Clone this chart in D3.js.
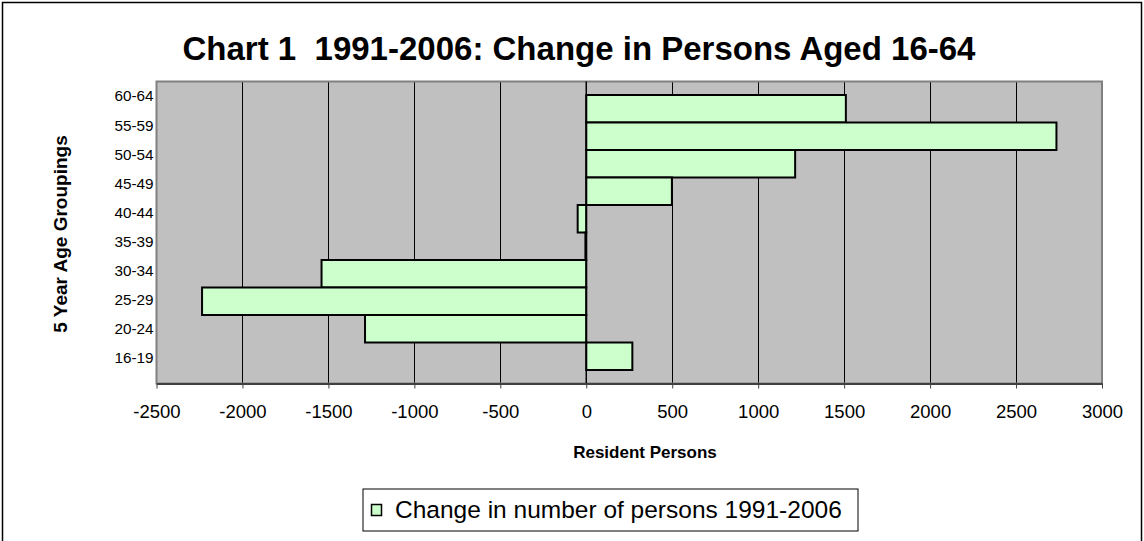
<!DOCTYPE html>
<html>
<head>
<meta charset="utf-8">
<script src="https://cdn.jsdelivr.net/npm/d3@7"></script>
<style>
  html, body { margin: 0; padding: 0; background: #fff; }
  svg { display: block; font-family: Arial, "Liberation Sans", sans-serif; }
</style>
</head>
<body>
<svg id="chart" width="1144" height="541"></svg>
<script>
// ---- data ----
const categories = ["60-64", "55-59", "50-54", "45-49", "40-44", "35-39", "30-34", "25-29", "20-24", "16-19"];
const values = [1510, 2735, 1215, 498, -50, -5, -1540, -2235, -1287, 268];
const xTicks = [-2500, -2000, -1500, -1000, -500, 0, 500, 1000, 1500, 2000, 2500, 3000];
const titleText = "Chart 1  1991-2006: Change in Persons Aged 16-64";
const xTitle = "Resident Persons";
const yTitle = "5 Year Age Groupings";
const legendText = "Change in number of persons 1991-2006";

// ---- layout ----
const W = 1144, H = 541;
const plot = { left: 156.5, right: 1102, top: 81.5, bottom: 383.5 };
const svg = d3.select("#chart");

// outer frame
svg.append("rect").attr("x", 2.5).attr("y", 2.5).attr("width", W - 5).attr("height", H + 10)
  .attr("fill", "none").attr("stroke", "#000").attr("stroke-width", 1.5);

const x = d3.scaleLinear().domain([xTicks[0], xTicks[xTicks.length - 1]]).range([plot.left, plot.right]);
const y = d3.scaleBand().domain(categories).range([95, 370]).paddingInner(0).paddingOuter(0);
const yLab = d3.scalePoint().domain(categories).range([96, 358]);

// plot background
svg.append("rect").attr("x", plot.left).attr("y", plot.top)
  .attr("width", plot.right - plot.left).attr("height", plot.bottom - plot.top)
  .attr("fill", "#C0C0C0");

// gridlines
svg.append("g").selectAll("line").data(xTicks.slice(1, -1)).join("line")
  .attr("x1", d => Math.round(x(d)) + 0.5).attr("x2", d => Math.round(x(d)) + 0.5)
  .attr("y1", plot.top).attr("y2", plot.bottom)
  .attr("stroke", "#000").attr("stroke-width", 1);

// plot border
svg.append("rect").attr("x", plot.left).attr("y", plot.top)
  .attr("width", plot.right - plot.left).attr("height", plot.bottom - plot.top)
  .attr("fill", "none").attr("stroke", "#808080").attr("stroke-width", 2);

// bars
svg.append("g").selectAll("rect").data(categories).join("rect")
  .attr("x", (d, i) => x(Math.min(0, values[i])))
  .attr("y", d => y(d))
  .attr("width", (d, i) => Math.abs(x(values[i]) - x(0)))
  .attr("height", y.bandwidth())
  .attr("fill", "#CCFFCC").attr("stroke", "#000").attr("stroke-width", 2);

// zero (category axis) line
svg.append("line").attr("x1", x(0)).attr("x2", x(0)).attr("y1", plot.top).attr("y2", plot.bottom)
  .attr("stroke", "#000").attr("stroke-width", 1.5);

// x axis
const xAxis = d3.axisBottom(x).tickValues(xTicks).tickSize(5).tickPadding(16).tickSizeOuter(0)
  .tickFormat(d3.format("d"));
const gx = svg.append("g").attr("transform", `translate(0,${plot.bottom})`).call(xAxis);
gx.select(".domain").attr("stroke", "#404040").attr("stroke-width", 2);
gx.selectAll(".tick line").attr("stroke", "#404040").attr("stroke-width", 1);
gx.selectAll(".tick text").attr("font-size", 18.5).attr("fill", "#000")
  .attr("font-family", 'Arial, "Liberation Sans", sans-serif').text(d => String(d).replace("\u2212", "-"));

// y labels
const yAxis = d3.axisLeft(yLab).tickSize(0).tickPadding(3);
const gy = svg.append("g").attr("transform", `translate(${plot.left},0)`).call(yAxis);
gy.select(".domain").remove();
gy.selectAll(".tick text").attr("font-size", 15.3).attr("fill", "#000")
  .attr("font-family", 'Arial, "Liberation Sans", sans-serif');

// title
svg.append("text").attr("x", 579).attr("y", 60).attr("text-anchor", "middle")
  .style("white-space", "pre").attr("xml:space", "preserve")
  .attr("font-size", 33).attr("font-weight", "bold").text(titleText);

// x title
svg.append("text").attr("x", 645).attr("y", 458).attr("text-anchor", "middle")
  .attr("font-size", 17).attr("font-weight", "bold").text(xTitle);

// y title
svg.append("text").attr("transform", "translate(67,234) rotate(-90)").attr("text-anchor", "middle")
  .attr("font-size", 19).attr("font-weight", "bold").text(yTitle);

// legend
const lg = svg.append("g");
lg.append("rect").attr("x", 363).attr("y", 489).attr("width", 495).attr("height", 42)
  .attr("fill", "#fff").attr("stroke", "#000").attr("stroke-width", 1);
lg.append("rect").attr("x", 371.5).attr("y", 504.5).attr("width", 10).attr("height", 11)
  .attr("fill", "#CCFFCC").attr("stroke", "#000").attr("stroke-width", 1.5);
lg.append("text").attr("x", 395).attr("y", 518).attr("font-size", 24.5).text(legendText);
</script>
</body>
</html>
